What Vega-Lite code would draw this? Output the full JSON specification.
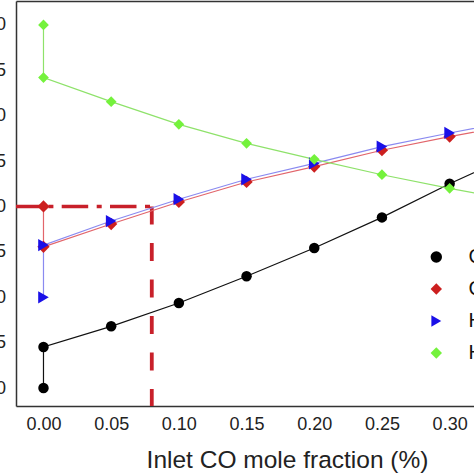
{
  "$schema": "https://vega.github.io/schema/vega-lite/v6.json",
  "width": 458,
  "height": 405,
  "autosize": {"type": "none"},
  "padding": {"left": 16, "top": 1, "right": 0, "bottom": 68},
  "background": "white",
  "config": {
    "view": {"stroke": null},
    "font": "Liberation Sans",
    "axis": {
      "domainColor": "#333333",
      "domainWidth": 1.5,
      "tickColor": "#333333",
      "tickWidth": 1.3,
      "tickSize": 0,
      "labelColor": "#222222",
      "labelFont": "Liberation Sans",
      "titleFont": "Liberation Sans",
      "titleColor": "#222222",
      "titleFontWeight": "normal",
      "grid": false,
      "labelFlush": false,
      "labelOverlap": false
    }
  },
  "data": {
    "values": [
      {"s": "CO₂", "i": 0, "x": 0, "y": 0},
      {"s": "CO₂", "i": 1, "x": 0, "y": 4.52},
      {"s": "CO₂", "i": 2, "x": 0.05, "y": 6.8},
      {"s": "CO₂", "i": 3, "x": 0.1, "y": 9.37},
      {"s": "CO₂", "i": 4, "x": 0.15, "y": 12.31},
      {"s": "CO₂", "i": 5, "x": 0.2, "y": 15.43},
      {"s": "CO₂", "i": 6, "x": 0.25, "y": 18.8},
      {"s": "CO₂", "i": 7, "x": 0.3, "y": 22.5},
      {"s": "CO₂", "i": 8, "x": 0.35, "y": 25.9},
      {"s": "CO", "i": 0, "x": 0, "y": 20},
      {"s": "CO", "i": 1, "x": 0, "y": 15.56},
      {"s": "CO", "i": 2, "x": 0.05, "y": 18.07},
      {"s": "CO", "i": 3, "x": 0.1, "y": 20.5},
      {"s": "CO", "i": 4, "x": 0.15, "y": 22.7},
      {"s": "CO", "i": 5, "x": 0.2, "y": 24.4},
      {"s": "CO", "i": 6, "x": 0.25, "y": 26.2},
      {"s": "CO", "i": 7, "x": 0.3, "y": 27.7},
      {"s": "CO", "i": 8, "x": 0.35, "y": 29.1},
      {"s": "H₂O", "i": 0, "x": 0, "y": 10},
      {"s": "H₂O", "i": 1, "x": 0, "y": 15.75},
      {"s": "H₂O", "i": 2, "x": 0.05, "y": 18.4},
      {"s": "H₂O", "i": 3, "x": 0.1, "y": 20.8},
      {"s": "H₂O", "i": 4, "x": 0.15, "y": 23.0},
      {"s": "H₂O", "i": 5, "x": 0.2, "y": 24.75},
      {"s": "H₂O", "i": 6, "x": 0.25, "y": 26.6},
      {"s": "H₂O", "i": 7, "x": 0.3, "y": 28.1},
      {"s": "H₂O", "i": 8, "x": 0.35, "y": 29.5},
      {"s": "H₂", "i": 0, "x": 0, "y": 40},
      {"s": "H₂", "i": 1, "x": 0, "y": 34.2},
      {"s": "H₂", "i": 2, "x": 0.05, "y": 31.55},
      {"s": "H₂", "i": 3, "x": 0.1, "y": 29.05},
      {"s": "H₂", "i": 4, "x": 0.15, "y": 26.96},
      {"s": "H₂", "i": 5, "x": 0.2, "y": 25.2},
      {"s": "H₂", "i": 6, "x": 0.25, "y": 23.5},
      {"s": "H₂", "i": 7, "x": 0.3, "y": 22.0},
      {"s": "H₂", "i": 8, "x": 0.35, "y": 20.6}
    ]
  },
  "layer": [
    {
      "data": {"values": [{}]},
      "mark": {"type": "rule", "color": "#c8202a", "strokeWidth": 3.5, "strokeDash": [26.5, 8.5, 5, 8.3], "strokeDashOffset": 2.6},
      "encoding": {
        "x": {"datum": -0.0203, "type": "quantitative", "scale": {"domain": [-0.0203, 0.318], "nice": false, "zero": false}, "axis": null},
        "x2": {"datum": 0.08},
        "y": {"datum": 20, "type": "quantitative", "scale": {"domain": [-1.98, 42.64], "nice": false, "zero": false}, "axis": null}
      }
    },
    {
      "data": {"values": [{}]},
      "mark": {"type": "rule", "color": "#c8202a", "strokeWidth": 3.8, "strokeDash": [18, 18.5]},
      "encoding": {
        "x": {"datum": 0.08, "type": "quantitative", "scale": {"domain": [-0.0203, 0.318], "nice": false, "zero": false}, "axis": null},
        "y": {"datum": 20, "type": "quantitative", "scale": {"domain": [-1.98, 42.64], "nice": false, "zero": false}, "axis": null},
        "y2": {"datum": -1.98}
      }
    },
    {
      "mark": {"type": "line", "strokeWidth": 1.2},
      "encoding": {
        "x": {
          "field": "x", "type": "quantitative",
          "scale": {"domain": [-0.0203, 0.318], "nice": false, "zero": false},
          "axis": {
            "orient": "bottom",
            "values": [0, 0.025, 0.05, 0.075, 0.1, 0.125, 0.15, 0.175, 0.2, 0.225, 0.25, 0.275, 0.3],
            "labelExpr": "abs(datum.value*20-round(datum.value*20))<0.001 ? format(datum.value,'.2f') : ''",
            "labelFontSize": 18,
            "labelPadding": 9,
            "title": "Inlet CO mole fraction (%)",
            "titleFontSize": 24.5,
            "titleX": 271,
            "titleY": 61,
            "titleBaseline": "alphabetic",
            "encode": {"ticks": {"y2": {"value": {"expr": "abs(datum.value*20-round(datum.value*20))<0.001 ? -6 : -4"}}}}
          }
        },
        "y": {
          "field": "y", "type": "quantitative",
          "scale": {"domain": [-1.98, 42.64], "nice": false, "zero": false},
          "axis": {
            "orient": "left",
            "values": [0, 2.5, 5, 7.5, 10, 12.5, 15, 17.5, 20, 22.5, 25, 27.5, 30, 32.5, 35, 37.5, 40],
            "labelExpr": "datum.value % 5 == 0 ? format(datum.value,'d') : ''",
            "labelFontSize": 18,
            "labelPadding": 10.5,
            "title": "Mole fraction (%)",
            "titleFontSize": 23,
            "encode": {"ticks": {"x2": {"value": {"expr": "datum.value % 5 == 0 ? 6 : 4"}}}}
          }
        },
        "stroke": {
          "field": "s", "type": "nominal",
          "scale": {"domain": ["CO", "CO₂", "H₂", "H₂O"], "range": ["#e2656b", "#111111", "#8ee26a", "#8a8af0"]},
          "legend": null
        },
        "detail": {"field": "s", "type": "nominal"},
        "order": {"field": "i", "type": "quantitative"}
      }
    },
    {
      "mark": {"type": "point", "filled": true, "opacity": 1},
      "encoding": {
        "x": {
          "field": "x", "type": "quantitative",
          "scale": {"domain": [-0.0203, 0.318], "nice": false, "zero": false},
          "axis": {
            "orient": "top",
            "values": [0, 0.025, 0.05, 0.075, 0.1, 0.125, 0.15, 0.175, 0.2, 0.225, 0.25, 0.275, 0.3],
            "labels": false,
            "title": null,
            "encode": {"ticks": {"y2": {"value": {"expr": "abs(datum.value*20-round(datum.value*20))<0.001 ? 6 : 4"}}}}
          }
        },
        "y": {
          "field": "y", "type": "quantitative",
          "scale": {"domain": [-1.98, 42.64], "nice": false, "zero": false},
          "axis": null
        },
        "fill": {
          "field": "s", "type": "nominal",
          "scale": {"domain": ["CO₂", "CO", "H₂O", "H₂"], "range": ["#000000", "#cc1f1f", "#1a10e8", "#74f23c"]},
          "legend": {
            "orient": "none",
            "legendX": 410.3,
            "legendY": 246,
            "title": null,
            "padding": 0,
            "symbolSize": 130,
            "labelFontSize": 20,
            "labelFont": "Liberation Sans",
            "labelColor": "#111111",
            "labelOffset": 22.3,
            "rowPadding": 12,
            "labelExpr": "datum.value == 'H₂O' ? '\u2003H₂O' : datum.label",
            "encode": {
              "symbols": {
                "shape": {"value": {"expr": "datum.value == 'CO₂' ? 'M-4.2,0H4.2M-1,0A1,1 0 1,0 1,0A1,1 0 1,0 -1,0Z' : datum.value == 'CO' ? 'M-4.2,0H4.2M0,-1.05L1.05,0L0,1.05L-1.05,0Z' : datum.value == 'H₂O' ? 'M-4.2,0H4.2M-0.85,-1L1.15,0L-0.85,1Z' : 'M-4.2,0H4.2M0,-0.8L0.8,0L0,0.8L-0.8,0Z'"}},
                "stroke": {"value": {"expr": "scale('stroke', datum.value)"}},
                "strokeWidth": {"value": 1},
                "size": {"value": 130},
                "opacity": {"value": 1}
              }
            }
          }
        },
        "shape": {
          "field": "s", "type": "nominal",
          "scale": {"domain": ["CO₂", "CO", "H₂O", "H₂"], "range": ["circle", "diamond", "triangle-right", "diamond"]},
          "legend": {
            "orient": "none",
            "legendX": 410.3,
            "legendY": 246,
            "title": null,
            "padding": 0,
            "symbolSize": 130,
            "labelFontSize": 20,
            "labelFont": "Liberation Sans",
            "labelColor": "#111111",
            "labelOffset": 22.3,
            "rowPadding": 12,
            "labelExpr": "datum.value == 'H₂O' ? '\u2003H₂O' : datum.label",
            "encode": {
              "symbols": {
                "shape": {"value": {"expr": "datum.value == 'CO₂' ? 'M-4.2,0H4.2M-1,0A1,1 0 1,0 1,0A1,1 0 1,0 -1,0Z' : datum.value == 'CO' ? 'M-4.2,0H4.2M0,-1.05L1.05,0L0,1.05L-1.05,0Z' : datum.value == 'H₂O' ? 'M-4.2,0H4.2M-0.85,-1L1.15,0L-0.85,1Z' : 'M-4.2,0H4.2M0,-0.8L0.8,0L0,0.8L-0.8,0Z'"}},
                "stroke": {"value": {"expr": "scale('stroke', datum.value)"}},
                "strokeWidth": {"value": 1},
                "size": {"value": 130},
                "opacity": {"value": 1}
              }
            }
          }
        },
        "size": {
          "field": "s", "type": "nominal",
          "scale": {"type": "ordinal", "domain": ["CO", "CO₂", "H₂", "H₂O"], "range": [150, 110, 115, 150]},
          "legend": null
        }
      }
    }
  ],
  "resolve": {"axis": {"x": "independent", "y": "independent"}}
}
